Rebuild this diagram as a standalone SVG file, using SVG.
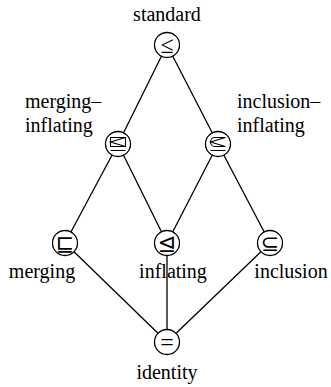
<svg xmlns="http://www.w3.org/2000/svg" width="331" height="387" viewBox="0 0 331 387">
<style>
.lbl{font-family:'Liberation Serif',serif;font-size:20px;fill:#000}
.sym{font-family:'Liberation Serif',serif;font-size:24px;fill:#000;text-anchor:middle}
.symd{font-family:'DejaVu Sans',sans-serif;font-size:22px;fill:#000;text-anchor:middle}
.c{fill:#fff;stroke:#000;stroke-width:1.3}
.e{stroke:#000;stroke-width:1.3;fill:none}
.s{stroke:#000;stroke-width:1.1;fill:none}
</style>
<rect width="331" height="387" fill="#fff"/>
<g id="connectors">
<line class="e" x1="167" y1="45" x2="118" y2="144"/>
<line class="e" x1="167" y1="45" x2="218" y2="144"/>
<line class="e" x1="118" y1="144" x2="65" y2="243"/>
<line class="e" x1="118" y1="144" x2="167" y2="243"/>
<line class="e" x1="218" y1="144" x2="167" y2="243"/>
<line class="e" x1="218" y1="144" x2="270" y2="243"/>
<line class="e" x1="65" y1="243" x2="167" y2="342"/>
<line class="e" x1="167" y1="243" x2="167" y2="342"/>
<line class="e" x1="270" y1="243" x2="167" y2="342"/>
</g>
<g id="standard">
<circle class="c" cx="167" cy="45" r="12.5"/>
<text class="sym" x="167" y="53">≤</text>
<text class="lbl" x="167" y="21" text-anchor="middle">standard</text>
</g>
<g id="merging-inflating">
<circle class="c" cx="118" cy="144" r="12.5"/>
<path class="s" d="M110.5 137.5H125.5V146.5H110.5ZM125.5 137.5L110.5 142L125.5 146.5M110.5 150.5H125.5"/>
<text class="lbl" x="25" y="108">merging–</text>
<text class="lbl" x="25" y="132">inflating</text>
</g>
<g id="inclusion-inflating">
<circle class="c" cx="218" cy="144" r="12.5"/>
<path class="s" d="M225.5 137.5H215A4.5 4.5 0 0 0 215 146.5H225.5M225.5 137.5L210.5 142L225.5 146.5M210.5 150.5H225.5"/>
<text class="lbl" x="237" y="108">inclusion–</text>
<text class="lbl" x="237" y="132">inflating</text>
</g>
<g id="merging">
<circle class="c" cx="65" cy="243" r="12.5"/>
<text class="symd" x="65" y="250.5">⊑</text>
<text class="lbl" x="42" y="278" text-anchor="middle">merging</text>
</g>
<g id="inflating">
<circle class="c" cx="167" cy="243" r="12.5"/>
<text class="symd" x="167" y="250.5">⊴</text>
<text class="lbl" x="173" y="278" text-anchor="middle">inflating</text>
</g>
<g id="inclusion">
<circle class="c" cx="270" cy="243" r="12.5"/>
<text class="symd" x="270" y="250.5">⊆</text>
<text class="lbl" x="291" y="278" text-anchor="middle">inclusion</text>
</g>
<g id="identity">
<circle class="c" cx="167" cy="342" r="12.5"/>
<text class="sym" x="167" y="350">=</text>
<text class="lbl" x="167" y="379" text-anchor="middle">identity</text>
</g>
</svg>
